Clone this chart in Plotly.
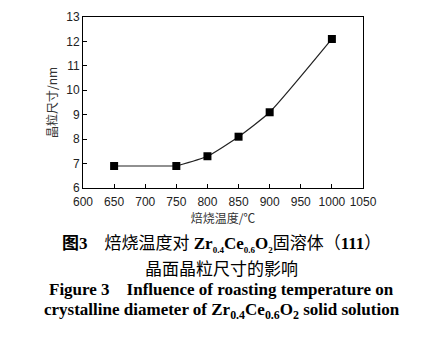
import plotly.graph_objects as go

temps = [650, 750, 800, 850, 900, 1000]
sizes = [6.9, 6.9, 7.3, 8.1, 9.1, 12.1]
x_ticks = [600, 650, 700, 750, 800, 850, 900, 950, 1000, 1050]
y_ticks = [6, 7, 8, 9, 10, 11, 12, 13]

fig = go.Figure()
# flat segment drawn straight, rising part smoothed
fig.add_trace(go.Scatter(
    x=temps[:2], y=sizes[:2], mode="lines",
    line=dict(color="#222", width=1.2), showlegend=False,
))
fig.add_trace(go.Scatter(
    x=temps[1:], y=sizes[1:], mode="lines",
    line=dict(color="#222", width=1.2, shape="spline", smoothing=0.5), showlegend=False,
))
fig.add_trace(go.Scatter(
    x=temps, y=sizes, mode="markers",
    marker=dict(symbol="square", size=8, color="black"), showlegend=False,
))

axis_common = dict(showgrid=False, zeroline=False, showline=True, linecolor="black", linewidth=1,
                   mirror=True, ticks="inside", ticklen=4, tickcolor="black",
                   tickfont=dict(family="Liberation Sans, Arial", size=12, color="#222"))
fig.update_xaxes(range=[600, 1050], tickvals=x_ticks, **axis_common, ticklabelstandoff=3,
                 title=dict(text="焙烧温度/℃", font=dict(family="Noto Sans CJK SC", size=12, color="#333"), standoff=2))
fig.update_yaxes(range=[6, 13], tickvals=y_ticks, **axis_common,
                 title=dict(text="晶粒尺寸/nm", font=dict(family="Noto Sans CJK SC", size=12, color="#333"), standoff=6))

T, B = 10, 154
H = 342
ph = H - T - B
cap_font_cn = dict(family="Noto Sans CJK SC", size=17, color="black")
cap_font_en = dict(family="Liberation Serif, Times New Roman", size=17, color="black")
SERIF = "<span style='font-family:Liberation Serif'><b>%s</b></span>"
SUB = "<sub><span style='font-size:9px'>%s</span></sub>"
formula = "Zr" + SUB % "0.4" + "Ce" + SUB % "0.6" + "O" + SUB % "2"
ann = [
    (244, "<b>图</b>" + SERIF % "3" + "　焙烧温度对" + SERIF % (" " + formula)
     + "固溶体（" + SERIF % "111" + "）", cap_font_cn),
    (271, "晶面晶粒尺寸的影响", cap_font_cn),
    (294, "<b>Figure 3　Influence of roasting temperature on</b>", cap_font_en),
    (316, "<b>crystalline diameter of Zr<sub>0.4</sub>Ce<sub>0.6</sub>O<sub>2</sub> solid solution</b>", cap_font_en),
]
cx = (221.5 - 83) / (443 - 83 - 80)
for y, t, f in ann:
    fig.add_annotation(x=cx, xref="paper", y=(H - B - y) / ph, yref="paper", text=t, showarrow=False,
                       font=f, xanchor="center", yanchor="middle")

fig.update_layout(width=443, height=342, margin=dict(l=83, r=80, t=T, b=B),
                  plot_bgcolor="white", paper_bgcolor="white")
fig.write_html("out.html")
